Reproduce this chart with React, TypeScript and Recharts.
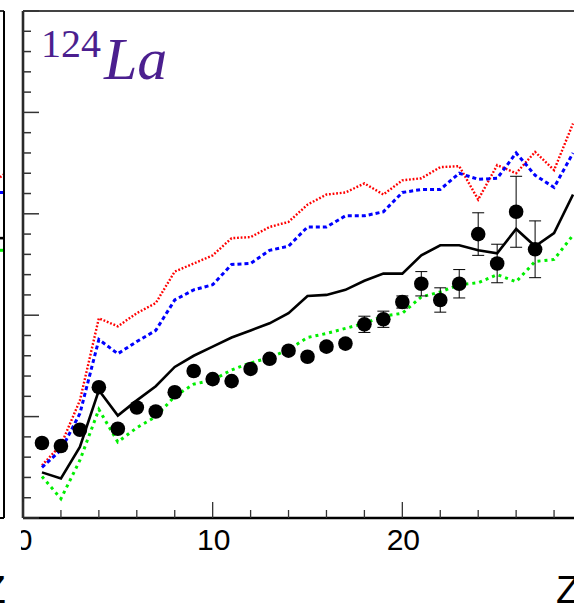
import React from "react";
import {
  ComposedChart,
  Line,
  Scatter,
  ErrorBar,
  XAxis,
  YAxis,
  ReferenceLine,
} from "recharts";

// proton number Z for the model curves
const zModel = [
  1, 2, 3, 4, 5, 6, 7, 8, 9, 10, 11, 12, 13, 14, 15, 16, 17, 18, 19, 20, 21,
  22, 23, 24, 25, 26, 27, 28, 29,
];
const redModel = [
  0.52, 0.72, 1.16, 1.97, 1.89, 2.02, 2.12, 2.43, 2.51, 2.59, 2.76, 2.77,
  2.87, 2.92, 3.09, 3.19, 3.21, 3.3, 3.19, 3.33, 3.35, 3.46, 3.47, 3.14, 3.48,
  3.4, 3.61, 3.43, 3.89,
];
const blueModel = [
  0.5, 0.67, 1.03, 1.76, 1.62, 1.74, 1.85, 2.15, 2.25, 2.3, 2.5, 2.51, 2.64,
  2.68, 2.87, 2.87, 2.98, 2.98, 3.02, 3.21, 3.24, 3.24, 3.4, 3.34, 3.35, 3.6,
  3.38, 3.26, 3.6,
];
const blackModel = [
  0.45, 0.39, 0.7, 1.26, 1.01, 1.16, 1.3, 1.49, 1.6, 1.69, 1.78, 1.85, 1.92,
  2.02, 2.19, 2.2, 2.25, 2.34, 2.41, 2.41, 2.59, 2.69, 2.69, 2.64, 2.61, 2.85,
  2.68, 2.81, 3.19,
];
const greenModel = [
  0.41, 0.19, 0.57, 1.07, 0.75, 0.89, 1.0, 1.2, 1.32, 1.36, 1.46, 1.53, 1.58,
  1.66, 1.78, 1.82, 1.87, 1.92, 1.99, 2.02, 2.18, 2.23, 2.3, 2.32, 2.4, 2.33,
  2.53, 2.55, 2.79,
];

// measured points
const zExp = [
  1, 2, 3, 4, 5, 6, 7, 8, 9, 10, 11, 12, 13, 14, 15, 16, 17, 18, 19, 20, 21,
  22, 23, 24, 25, 26, 27,
];
const expValue = [
  0.74, 0.71, 0.87, 1.29, 0.88, 1.09, 1.05, 1.24, 1.45, 1.37, 1.35, 1.47,
  1.57, 1.65, 1.59, 1.69, 1.72, 1.91, 1.96, 2.13, 2.31, 2.15, 2.31, 2.8, 2.51,
  3.02, 2.65,
];
const expError = [
  0.02, 0.02, 0.02, 0.02, 0.02, 0.02, 0.02, 0.02, 0.02, 0.02, 0.02, 0.02,
  0.03, 0.03, 0.03, 0.04, 0.04, 0.08, 0.08, 0.06, 0.12, 0.12, 0.14, 0.21,
  0.19, 0.35, 0.28,
];

// right end of the neighbouring panel (only a sliver shows)
const zNeighbour = [29.8, 30];
const redNeighbour = [3.36, 3.39];
const blueNeighbour = [3.21, 3.21];
const blackNeighbour = [2.76, 2.76];
const greenNeighbour = [2.64, 2.64];

const xTicks = [0, 2, 4, 6, 8, 10, 12, 14, 16, 18, 20, 22, 24, 26, 28, 30];
const xLabels = [0, 10, 20];
const yTicks = [
  0, 0.2, 0.4, 0.6, 0.8, 1, 1.2, 1.4, 1.6, 1.8, 2, 2.2, 2.4, 2.6, 2.8, 3, 3.2,
  3.4, 3.6, 3.8, 4, 4.2, 4.4, 4.6, 4.8, 5,
];

const modelRows = zModel.map((z, i) => ({
  z,
  red: redModel[i],
  blue: blueModel[i],
  black: blackModel[i],
  green: greenModel[i],
}));
const expRows = zExp.map((z, i) => ({ z, v: expValue[i], err: expError[i] }));
const neighbourRows = zNeighbour.map((z, i) => ({
  z,
  red: redNeighbour[i],
  blue: blueNeighbour[i],
  black: blackNeighbour[i],
  green: greenNeighbour[i],
}));

const SANS = "'Liberation Sans', Arial, Helvetica, sans-serif";
const SERIF = "'Liberation Serif', 'Times New Roman', serif";

const XTick = (props: any) => {
  const { x, y, payload } = props;
  const v = payload.value;
  const major = v % 10 === 0;
  return (
    <g>
      <line x1={x} x2={x} y1={y} y2={y - (major ? 16 : 8)} stroke="#333" strokeWidth={1.3} />
      {xLabels.includes(v) && (
        <text x={x + 1} y={y + 32} textAnchor="middle" fontSize={30} fontFamily={SANS} fill="#000">
          {v}
        </text>
      )}
    </g>
  );
};

const YTick = (props: any) => {
  const { x, y, payload } = props;
  const v = payload.value;
  const major = Math.abs(v - Math.round(v)) < 1e-6;
  return <line x1={x} x2={x + (major ? 16 : 8)} y1={y} y2={y} stroke="#333" strokeWidth={1.5} />;
};

const AxisTitle = (props: any) => {
  const { viewBox, back } = props;
  if (!viewBox) return null;
  return (
    <text x={viewBox.x + viewBox.width - back} y={viewBox.y + 85} fontSize={39} fontFamily={SANS} fill="#000">
      Z
    </text>
  );
};

const modelLines = (
  <>
    <Line type="linear" dataKey="red" stroke="#ff0000" strokeWidth={2.4} strokeDasharray="1.8 1.8" dot={false} isAnimationActive={false} />
    <Line type="linear" dataKey="blue" stroke="#0000ff" strokeWidth={3} strokeDasharray="4 3" dot={false} isAnimationActive={false} />
    <Line type="linear" dataKey="green" stroke="#00ee00" strokeWidth={3} strokeDasharray="3 4" dot={false} isAnimationActive={false} />
    <Line type="linear" dataKey="black" stroke="#000" strokeWidth={2.6} dot={false} isAnimationActive={false} />
  </>
);

export default function App() {
  return (
    <div style={{ position: "absolute", left: 0, top: 0, width: 574, height: 605, overflow: "hidden", background: "#fff" }}>
      <ComposedChart width={620} height={605} data={modelRows} margin={{ top: 11, right: 28, bottom: 57, left: 0 }}>
        <XAxis
          type="number"
          dataKey="z"
          domain={[0, 30]}
          ticks={xTicks}
          interval={0}
          height={30}
          tickSize={0}
          tickMargin={0}
          tickLine={false}
          tick={<XTick />}
          axisLine={{ stroke: "#000", strokeWidth: 2.6 }}
          label={<AxisTitle back={36} />}
        />
        <YAxis
          type="number"
          domain={[0, 5]}
          ticks={yTicks}
          interval={0}
          width={23}
          tickSize={0}
          tickMargin={0}
          tickLine={false}
          tick={<YTick />}
          axisLine={{ stroke: "#2a2a2a", strokeWidth: 2.6 }}
        />
        <ReferenceLine y={5} stroke="#444" strokeWidth={2} />
        {modelLines}
        <Scatter
          data={expRows}
          dataKey="v"
          isAnimationActive={false}
          shape={(p: any) => <circle cx={p.cx} cy={p.cy} r={7.3} fill="#000" />}
        >
          <ErrorBar dataKey="err" direction="y" width={6} strokeWidth={1} stroke="#000" />
        </Scatter>
      </ComposedChart>

      <div style={{ position: "absolute", left: 0, top: 0, width: 21, height: 605, overflow: "hidden", background: "#fff" }}>
        <ComposedChart width={30} height={605} data={neighbourRows} margin={{ top: 11, right: 0, bottom: 57, left: 0 }}>
          <XAxis
            type="number"
            dataKey="z"
            domain={[29.8, 30]}
            height={30}
            tick={false}
            tickLine={false}
            axisLine={{ stroke: "#000", strokeWidth: 2 }}
            label={<AxisTitle back={22} />}
          />
          <YAxis
            orientation="right"
            type="number"
            domain={[0, 5]}
            width={26}
            tick={false}
            tickLine={false}
            axisLine={{ stroke: "#000", strokeWidth: 2 }}
          />
          <ReferenceLine y={5} stroke="#333" strokeWidth={2} />
          {modelLines}
        </ComposedChart>
      </div>

      <svg width={574} height={100} style={{ position: "absolute", left: 0, top: 0, pointerEvents: "none" }}>
        <text x={41} y={57} fontSize={40} fontFamily={SERIF} fill="#4b1f8f">
          124
        </text>
        <text x={104} y={79} fontSize={60} fontStyle="italic" fontFamily={SERIF} fill="#4b1f8f">
          La
        </text>
      </svg>
    </div>
  );
}
